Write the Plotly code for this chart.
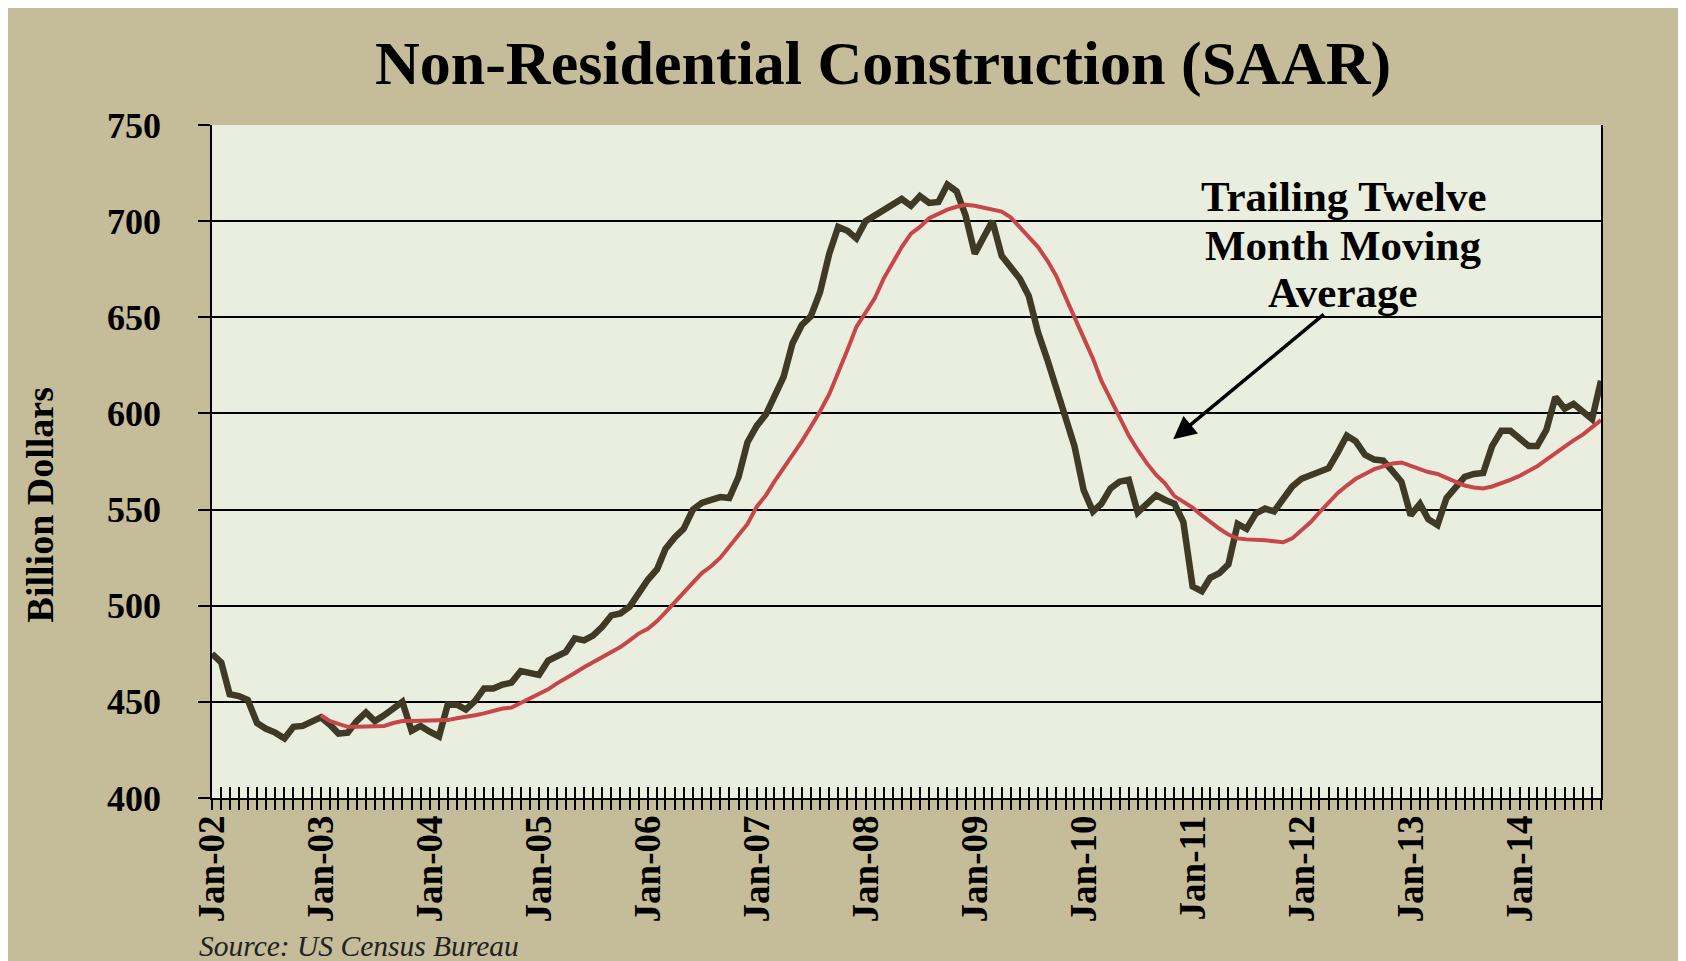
import pandas as pd
import plotly.graph_objects as go

# Месяцы: январь 2002 – октябрь 2014
months = pd.date_range("2002-01-01", periods=154, freq="MS")

# Нежилое строительство, млрд долл. (SAAR), помесячно
construction = [
    475, 470.5, 454, 453, 451, 439, 436, 434, 431, 437, 437.5, 440,
    442, 438, 433.5, 434, 440, 444.5, 440, 443, 447, 450, 435, 437.5,
    434.5, 432, 448.5, 448.5, 446, 450.5, 457, 457, 459, 460, 466, 465,
    464, 471.5, 474, 476, 483, 482, 484.5, 489, 495, 496, 499.5, 506.5,
    513.5, 519, 529.5, 535.5, 540, 550, 553.5, 555, 556.5, 556, 567, 585,
    593.5, 599.5, 608.5, 619, 636.5, 646, 650.5, 663, 683, 697, 695, 691,
    700, 703, 706, 708.5, 711.5, 708, 713, 709.5, 710, 719, 715.5, 703,
    683, 692, 700, 682, 676, 670, 661, 642, 628, 613, 598, 583,
    560, 549, 553, 561, 564.5, 565.5, 548.5, 553, 557.5, 555, 553, 543.5,
    510, 507.5, 514.5, 517, 521.5, 542.5, 540, 548, 550.5, 549, 555, 562,
    566, 568, 570, 571.5, 579.5, 588.5, 585.5, 578.5, 576, 575.5, 570, 564.5,
    547, 553, 545, 542, 556, 561, 567, 568.5, 569, 583, 591, 591,
    586.5, 583, 583, 591.5, 608.5, 602.5, 605, 601.5, 597, 617,
]

# Скользящая средняя за 12 месяцев (с января 2003)
moving_avg = [
    443, 440, 438.5, 437, 437, 437, 437, 437.5, 439, 440, 440, 440,
    440, 440, 440.5, 441.5, 442, 443, 444, 445.5, 446.5, 447, 449.5, 452,
    454, 456.5, 459.5, 462, 465, 468, 470.5, 473, 475.5, 478.5, 482, 485.5,
    488, 492, 496.5, 501.5, 506.5, 512, 517, 520.5, 525, 531, 537, 542.5,
    551.5, 557.5, 564.5, 571.5, 578, 585.5, 593, 601, 610, 621, 633, 645,
    653, 660, 670, 678.5, 686.5, 693.5, 697, 701.5, 704, 706, 707.5, 708.5,
    708, 707, 706.5, 705, 702, 697, 692, 686.5, 679.5, 671.5, 660.5, 650,
    639.5, 628.5, 617, 607.5, 598, 588.5, 581, 574, 568, 563.5, 557, 554,
    551, 547, 543.5, 540, 537, 535, 534.5, 534.5, 534, 533.5, 533, 535,
    539, 543.5, 548.5, 553.5, 558.5, 562.5, 566, 568.5, 571, 572.5, 574, 574.5,
    573, 571, 569.5, 568.5, 566.5, 564.5, 562.5, 561.5, 561, 562, 563.5, 565.5,
    567.5, 570, 572.5, 576, 579.5, 583, 586, 589, 592.5, 596.5,
]
ma_months = months[12:]

y_ticks = [400, 450, 500, 550, 600, 650, 700, 750]
grid_vals = [450, 500, 550, 600, 650, 700]
note_lines = ["Trailing Twelve", "Month Moving", "Average"]

TAN = "#C5BC99"
PLOT_BG = "#EAEEDE"
SERIF = "Liberation Serif"

fig = go.Figure()

# Основной ряд
fig.add_trace(go.Scatter(x=months, y=construction, mode="lines",
                         line=dict(color="#3E3A26", width=6.5),
                         xaxis="x", yaxis="y", hoverinfo="skip"))
# Скользящая средняя
fig.add_trace(go.Scatter(x=ma_months, y=moving_avg, mode="lines",
                         line=dict(color="#C8464A", width=4),
                         xaxis="x2", yaxis="y2", hoverinfo="skip"))

x_range = ["2002-01-01", "2014-10-01"]
y_range = [400, 750]

fig.update_layout(
    width=1686, height=961,
    margin=dict(l=204, r=93, t=117, b=171),
    paper_bgcolor=TAN,
    plot_bgcolor=PLOT_BG,
    showlegend=False,
    title=dict(text="Non-Residential Construction (SAAR)",
               font=dict(family=SERIF, size=62, color="black", weight="bold"),
               xref="container", x=0.519, xanchor="center",
               yref="container", y=0.943, yanchor="middle"),
    xaxis=dict(range=x_range, type="date",
               tick0="2002-01-01", dtick="M12", tickformat="%b-%y",
               tickangle=-90, ticks="outside", ticklen=10, tickwidth=1.5,
               tickcolor="black", ticklabelstandoff=-9,
               minor=dict(dtick="M1", tick0="2002-01-01", ticks="outside",
                          ticklen=10, tickwidth=1.5, tickcolor="black"),
               tickfont=dict(family=SERIF, size=37, color="black", weight="bold"),
               showline=True, linecolor="black", linewidth=1.5,
               showgrid=False, zeroline=False, anchor="y"),
    # вторая ось X только для засечек внутрь (эффект "cross")
    xaxis2=dict(range=x_range, type="date", overlaying="x", side="bottom",
                anchor="y2",
                tick0="2002-01-01", dtick="M12", ticks="inside", ticklen=11,
                tickwidth=1.5, tickcolor="black",
                minor=dict(dtick="M1", tick0="2002-01-01", ticks="inside",
                           ticklen=11, tickwidth=1.5, tickcolor="black"),
                showticklabels=False, showline=False, showgrid=False,
                zeroline=False),
    yaxis=dict(range=y_range, tickvals=y_ticks, ticks="outside", ticklen=12,
               tickwidth=1.5, tickcolor="black", ticklabelstandoff=30,
               tickfont=dict(family=SERIF, size=36, color="black", weight="bold"),
               showline=True, linecolor="black", linewidth=1.5, mirror=True,
               showgrid=False, zeroline=False, anchor="x"),
    # линии сетки без верхней границы
    yaxis2=dict(range=y_range, tickvals=grid_vals, overlaying="y", side="left",
                anchor="x2", showgrid=True, gridcolor="black", gridwidth=1.5,
                showticklabels=False, ticks="", showline=False, zeroline=False),
)

# Подпись оси Y
fig.add_annotation(text="Billion Dollars", textangle=-90,
                   xref="paper", yref="paper", x=-0.1237, y=0.435,
                   xanchor="center", yanchor="middle", showarrow=False,
                   font=dict(family=SERIF, size=38, color="black", weight="bold"))

# Подпись к скользящей средней, построчно
for line_text, line_y in zip(note_lines, [0.8937, 0.8203, 0.7515]):
    fig.add_annotation(text=line_text,
                       xref="paper", yref="paper", x=0.8143, y=line_y,
                       xanchor="center", yanchor="middle", showarrow=False,
                       font=dict(family=SERIF, size=43, color="black",
                                 weight="bold"))

# Стрелка
fig.add_annotation(x="2010-10-28", y=586.6, xref="x", yref="y",
                   ax=152, ay=-126, text="", showarrow=True,
                   arrowhead=2, arrowsize=1.3, arrowwidth=3.5,
                   arrowcolor="black", standoff=0)

# Источник
fig.add_annotation(text="Source: US Census Bureau",
                   xref="paper", yref="paper", x=-0.0107, y=-0.2202,
                   xanchor="left", yanchor="middle", showarrow=False,
                   font=dict(family=SERIF, size=29.5, color="#222222",
                             style="italic"))

fig.write_html("out.html")
